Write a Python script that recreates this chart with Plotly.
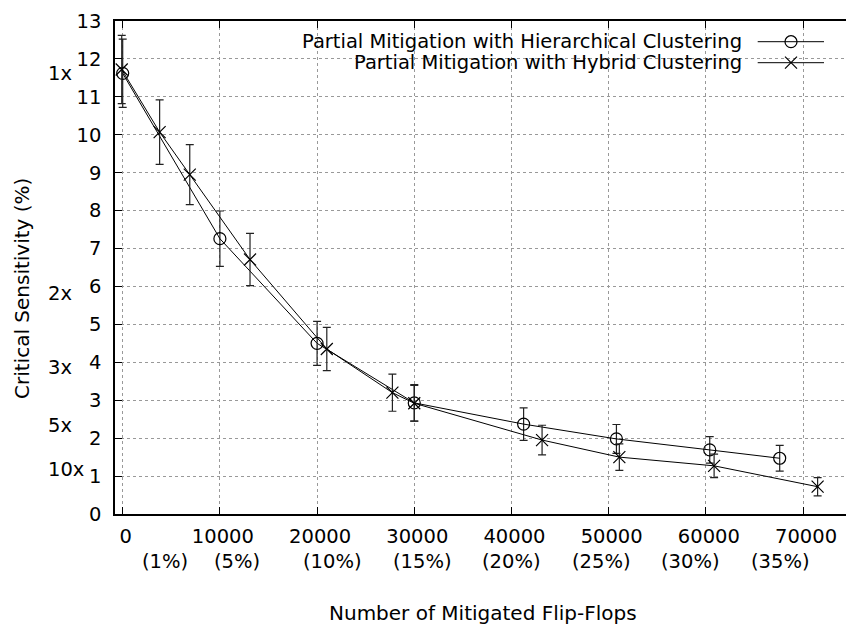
import plotly.graph_objects as go

# ---------------- data ----------------
hier_x = [0, 10000, 20000, 30000, 41250, 50800, 60400, 67600]
hier_y = [11.62, 7.26, 4.50, 2.93, 2.37, 1.98, 1.69, 1.47]
hier_err = [0.90, 0.73, 0.58, 0.48, 0.43, 0.38, 0.35, 0.34]

hyb_x = [-100, 3800, 6900, 13100, 21000, 27750, 30000, 43150, 51100, 60850, 71500]
hyb_y = [11.72, 10.07, 8.95, 6.71, 4.35, 3.20, 2.92, 1.95, 1.50, 1.27, 0.72]
hyb_err = [0.90, 0.85, 0.79, 0.69, 0.57, 0.49, 0.47, 0.39, 0.35, 0.31, 0.24]

series_names = ["Partial Mitigation with Hierarchical Clustering",
                "Partial Mitigation with Hybrid Clustering"]

x_tick_vals = [0, 10000, 20000, 30000, 40000, 50000, 60000, 70000]
x_tick_text = ["0", "10000", "20000", "30000", "40000", "50000", "60000", "70000"]
pct_labels = ["(1%)", "(5%)", "(10%)", "(15%)", "(20%)", "(25%)", "(30%)", "(35%)"]
pct_pos = [4350, 11730, 21610, 30870, 40020, 49290, 58440, 67730]

ratio_labels = ["1x", "2x", "3x", "5x", "10x"]
ratio_factors = [1, 2, 3, 5, 10]

x_title = "Number of Mitigated Flip-Flops"
y_title = "Critical Sensitivity (%)"

# ---------------- layout geometry ----------------
W, H = 846, 630
L, R, T, B = 115, 0, 21, 116
PW, PH = W - L - R, H - T - B
FONT = "DejaVu Sans"
FS = 19.5

def px_x(p):
    return (p - L) / PW

def px_y(p):
    return (H - B - p) / PH

fig = go.Figure()

fig.add_trace(go.Scatter(
    x=hier_x, y=hier_y, mode="lines+markers", name=series_names[0],
    line=dict(color="black", width=1),
    marker=dict(symbol="circle-open", size=12, color="black", line=dict(width=1.2)),
    error_y=dict(type="data", array=hier_err, visible=True, color="#222", thickness=1.2, width=4),
    showlegend=False))

fig.add_trace(go.Scatter(
    x=hyb_x, y=hyb_y, mode="lines+markers", name=series_names[1],
    line=dict(color="black", width=1),
    marker=dict(symbol="x-thin-open", size=12, color="black", line=dict(width=1.2, color="black")),
    error_y=dict(type="data", array=hyb_err, visible=True, color="#222", thickness=1.2, width=4),
    showlegend=False))

# legend samples (drawn on a fixed overlay axis in plot-fraction units)
leg_rows = [41.7, 62.7]
leg_syms = ["circle-open", "x-thin-open"]
for name, yy, sym in zip(series_names, leg_rows, leg_syms):
    fig.add_trace(go.Scatter(
        x=[px_x(757.7), px_x(824)], y=[px_y(yy), px_y(yy)], mode="lines",
        line=dict(color="black", width=1), xaxis="x2", yaxis="y2",
        showlegend=False, hoverinfo="skip"))
    fig.add_trace(go.Scatter(
        x=[px_x(791)], y=[px_y(yy)], mode="markers",
        marker=dict(symbol=sym, size=12, color="black", line=dict(width=1.2, color="black")),
        xaxis="x2", yaxis="y2", showlegend=False, hoverinfo="skip"))
    fig.add_annotation(x=px_x(744), y=px_y(yy), xref="paper", yref="paper",
                       text=name, showarrow=False, xanchor="right", yanchor="middle",
                       font=dict(family=FONT, size=19.5, color="black"))

# percent labels under the x ticks
for lab, pos in zip(pct_labels, pct_pos):
    fig.add_annotation(x=pos, y=0, xref="x", yref="y", text=lab, showarrow=False,
                       xanchor="center", yanchor="middle", yshift=-47.7,
                       font=dict(family=FONT, size=FS, color="black"))

# ratio labels on the left
base = hier_y[0]
for lab, f in zip(ratio_labels, ratio_factors):
    fig.add_annotation(x=px_x(46), y=base / f, xref="paper", yref="y", text=lab,
                       showarrow=False, xanchor="left", yanchor="middle",
                       font=dict(family=FONT, size=FS, color="black"))

# axis titles
fig.add_annotation(x=px_x(483), y=px_y(613), xref="paper", yref="paper", text=x_title,
                   showarrow=False, xanchor="center", yanchor="middle",
                   font=dict(family=FONT, size=20, color="black"))
fig.add_annotation(x=px_x(22), y=px_y(288), xref="paper", yref="paper", text=y_title,
                   showarrow=False, xanchor="center", yanchor="middle", textangle=-90,
                   font=dict(family=FONT, size=20, color="black"))

x_min = (L - 122.7) / 97.19 * 10000
x_max = (W - R - 122.7) / 97.19 * 10000

fig.update_layout(
    width=W, height=H,
    margin=dict(l=L, r=R, t=T, b=B, pad=0),
    paper_bgcolor="white", plot_bgcolor="white",
    font=dict(family=FONT, size=FS, color="black"),
    xaxis=dict(range=[x_min, x_max], tickvals=x_tick_vals, ticktext=x_tick_text,
               ticks="inside", ticklen=7, tickwidth=1.2, tickcolor="black",
               showline=True, linecolor="black", linewidth=1.5, mirror="ticks",
               showgrid=True, gridcolor="#999", griddash="dot", gridwidth=1,
               zeroline=False, ticklabelshift=3, ticklabelstandoff=4,
               tickfont=dict(family=FONT, size=FS, color="black")),
    yaxis=dict(range=[0, 13], dtick=1, tick0=0,
               ticks="inside", ticklen=7, tickwidth=1.2, tickcolor="black",
               showline=True, linecolor="black", linewidth=1.5, mirror=False,
               showgrid=True, gridcolor="#999", griddash="dot", gridwidth=1,
               zeroline=False, ticklabelstandoff=8,
               tickfont=dict(family=FONT, size=FS, color="black")),
    xaxis2=dict(range=[0, 1], overlaying="x", visible=False, fixedrange=True),
    yaxis2=dict(range=[0, 1], overlaying="y", visible=False, fixedrange=True),
    showlegend=False,
)

fig.write_html("out.html", config={"displayModeBar": False},
               post_script="document.body.style.margin='0px';document.body.style.overflow='hidden';")
